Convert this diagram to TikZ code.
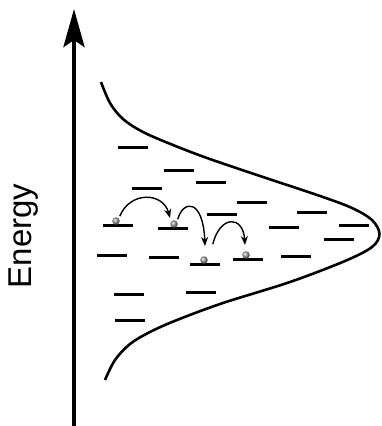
\documentclass[tikz,border=0pt]{standalone}
\usepackage{fontspec}
\setmainfont{Liberation Sans}
\usetikzlibrary{arrows.meta}
\begin{document}
\begin{tikzpicture}[x=1pt,y=-1pt,
  level/.style={line width=3pt},
  hop/.style={line width=1.4pt,-{Stealth[length=9pt,width=7pt]}},
  ball/.style={circle,inner sep=0pt,minimum size=7.5pt,shading=ball,ball color=gray!75}]
\useasboundingbox (0,0) rectangle (382,426);
% axis
\coordinate (axb) at (74,426);
\coordinate (axt) at (74,9);
\draw[line width=4.5pt,-{Stealth[length=38pt,width=21pt,inset=7pt]}] (axb) -- (axt);
\node[rotate=90,font=\fontsize{33}{40}\selectfont] (lab) at (24,236) {Energy};
% density curve
\draw[line width=2.6pt] plot[smooth,tension=0.55] coordinates {
 (101,82) (110,103) (123,119) (143,132) (173,145) (207,158) (257,175)
 (320,196) (352,208) (372,220) (379.5,234) (372,247) (345,261) (290,282)
 (223,303) (177,320) (150,332) (130,344) (115,360) (105,380)};
% levels
\foreach \xa/\yy in {118/147,164/170,196/182,132/188,237/202,207/214,297/212,
 103/225,158/228,269/227,339/225,324/239,97/255,149/257,190/264,233/259,281/256,
 114/294,186/292,115/320}
 \draw[level] (\xa,\yy) -- ++(30,0);
% balls
\node[ball] (b1) at (116,221) {};
\node[ball] (b2) at (174,224) {};
\node[ball] (b3) at (204,260) {};
\node[ball] (b4) at (246,255) {};
% hops
\draw[hop] (b1.north east) ++(1,-2) .. controls (130,191) and (163,192) .. (170,218);
\draw[hop] (b2.north east) ++(1,-2) .. controls (183,200) and (203,198) .. (205,246);
\draw[hop] (b3.north east) ++(6,-13) .. controls (220,215) and (243,215) .. (245,245);
\end{tikzpicture}
\end{document}
